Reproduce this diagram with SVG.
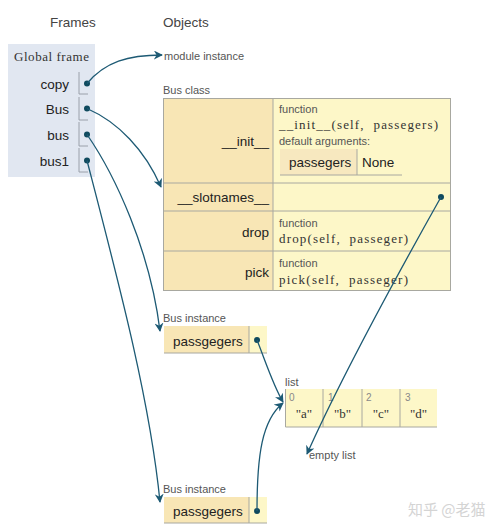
<svg xmlns="http://www.w3.org/2000/svg" width="500" height="529" viewBox="0 0 500 529">
<style>
text{font-family:"Liberation Sans",Arial,sans-serif;fill:#222}
.hdr{font-size:13.5px;fill:#444}
.lbl{font-size:11px;fill:#555}
.key{font-size:13.5px;text-anchor:end}
.val{font-size:13.5px}
.mono{font-family:"Liberation Serif","Times New Roman",serif;font-size:13px;fill:#333}
.idx{font-size:10px;fill:#888}
.tan{fill:#f8e6b5}
.yel{fill:#fdf7c8}
.bd{stroke:#a8a8a0;stroke-width:1;fill:none}
.fbd{stroke:#9aa0aa;stroke-width:1;fill:none}
.dot{fill:#0f4a5e}
.arr{fill:none;stroke:#1d5a74;stroke-width:1.3;marker-end:url(#ah)}
</style>
<defs>
<marker id="ah" viewBox="0 0 10 10" refX="9" refY="5" markerWidth="9" markerHeight="9" markerUnits="userSpaceOnUse" orient="auto">
<path d="M0,0 L10,5 L0,10 L3,5 z" fill="#1d5a74"/>
</marker>
</defs>
<rect width="500" height="529" fill="#ffffff"/>

<text class="hdr" x="50" y="27">Frames</text>
<text class="hdr" x="163" y="27">Objects</text>

<g id="global-frame">
<rect x="8" y="44" width="87" height="133" fill="#e1e7f1"/>
<text class="mono" x="14" y="61" font-size="12" textLength="75" xml:space="preserve">Global frame</text>
<text class="key" x="69" y="89">copy</text>
<text class="key" x="69" y="114">Bus</text>
<text class="key" x="69" y="140">bus</text>
<text class="key" x="69" y="166">bus1</text>
<path class="fbd" d="M79,72 V94 H88 M79,97 V120 H88 M79,122 V146 H88 M79,148 V172 H88"/>
<circle class="dot" cx="87" cy="83.5" r="3"/>
<circle class="dot" cx="87" cy="108.5" r="3"/>
<circle class="dot" cx="87" cy="134.5" r="3"/>
<circle class="dot" cx="87" cy="160.5" r="3"/>
</g>

<g id="module-instance">
<text class="lbl" x="164" y="60">module instance</text>
</g>

<g id="bus-class">
<text class="lbl" x="163" y="94">Bus class</text>
<rect class="tan" x="163" y="98" width="110" height="193"/>
<rect class="yel" x="273" y="98" width="178" height="193"/>
<rect class="bd" x="163.5" y="98.5" width="287" height="192"/>
<path class="bd" d="M273,98 V291 M163,183 H451 M163,211 H451 M163,251 H451"/>
<text class="key" x="269" y="146">__init__</text>
<text class="lbl" x="279" y="113">function</text>
<text class="mono" x="279" y="129" xml:space="preserve" textLength="159">__init__(self,  passegers)</text>
<text class="lbl" x="279" y="145">default arguments:</text>
<rect x="280" y="149" width="77" height="26" fill="#f7e8bf"/>
<path class="bd" d="M280,175 H402 M357,149 V175"/>
<text class="val" x="289" y="167">passegers</text>
<text class="val" x="362" y="167">None</text>
<text class="key" x="269" y="202">__slotnames__</text>
<circle class="dot" cx="441" cy="197" r="3"/>
<text class="key" x="269" y="237">drop</text>
<text class="lbl" x="279" y="227">function</text>
<text class="mono" x="279" y="243" xml:space="preserve" textLength="129">drop(self,  passeger)</text>
<text class="key" x="269" y="277">pick</text>
<text class="lbl" x="279" y="267">function</text>
<text class="mono" x="279" y="284" xml:space="preserve" textLength="129">pick(self,  passeger)</text>
</g>

<g id="bus-instance-1">
<text class="lbl" x="163" y="322">Bus instance</text>
<rect class="tan" x="164" y="326" width="85" height="27"/>
<rect class="yel" x="249" y="326" width="18" height="27"/>
<path class="bd" d="M164,353 H267 M249,326 V353"/>
<text class="val" x="173" y="346">passgegers</text>
<circle class="dot" cx="257" cy="340" r="3"/>
</g>

<g id="bus-instance-2">
<text class="lbl" x="163" y="493">Bus instance</text>
<rect class="tan" x="164" y="497" width="85" height="26"/>
<rect class="yel" x="249" y="497" width="18" height="26"/>
<path class="bd" d="M164,523 H267 M249,497 V523"/>
<text class="val" x="173" y="516">passgegers</text>
<circle class="dot" cx="257" cy="511" r="3"/>
</g>

<g id="list">
<text class="lbl" x="285" y="386">list</text>
<rect class="yel" x="285" y="389" width="152" height="38"/>
<path class="bd" d="M285.5,389 V427 H437 M323,389 V427 M362,389 V427 M400,389 V427"/>
<text class="idx" x="289" y="401">0</text>
<text class="idx" x="328" y="401">1</text>
<text class="idx" x="366" y="401">2</text>
<text class="idx" x="405" y="401">3</text>
<text class="mono" x="304" y="418" text-anchor="middle">"a"</text>
<text class="mono" x="342.5" y="418" text-anchor="middle">"b"</text>
<text class="mono" x="381" y="418" text-anchor="middle">"c"</text>
<text class="mono" x="418.5" y="418" text-anchor="middle">"d"</text>
</g>

<g id="empty-list">
<text class="lbl" x="309" y="459">empty list</text>
</g>

<g id="connectors">
<path class="arr" d="M87,83.5 C105,62 128,55 162,55"/>
<path class="arr" d="M87,108.5 C118,122 145,150 161,187"/>
<path class="arr" d="M87,134.5 C115,175 150,250 160,331"/>
<path class="arr" d="M87,160.5 C118,280 150,400 160,502"/>
<path class="arr" d="M257,340 C265,360 273,385 283,402"/>
<path class="arr" d="M257,511 C257,455 262,420 283,403"/>
<path class="arr" d="M441,197 C400,270 340,380 307,454"/>
</g>

<text x="408" y="515" font-size="15" style="fill:#d4d4d4;font-family:'Noto Sans CJK SC',sans-serif">知乎 @老猫</text>
</svg>
